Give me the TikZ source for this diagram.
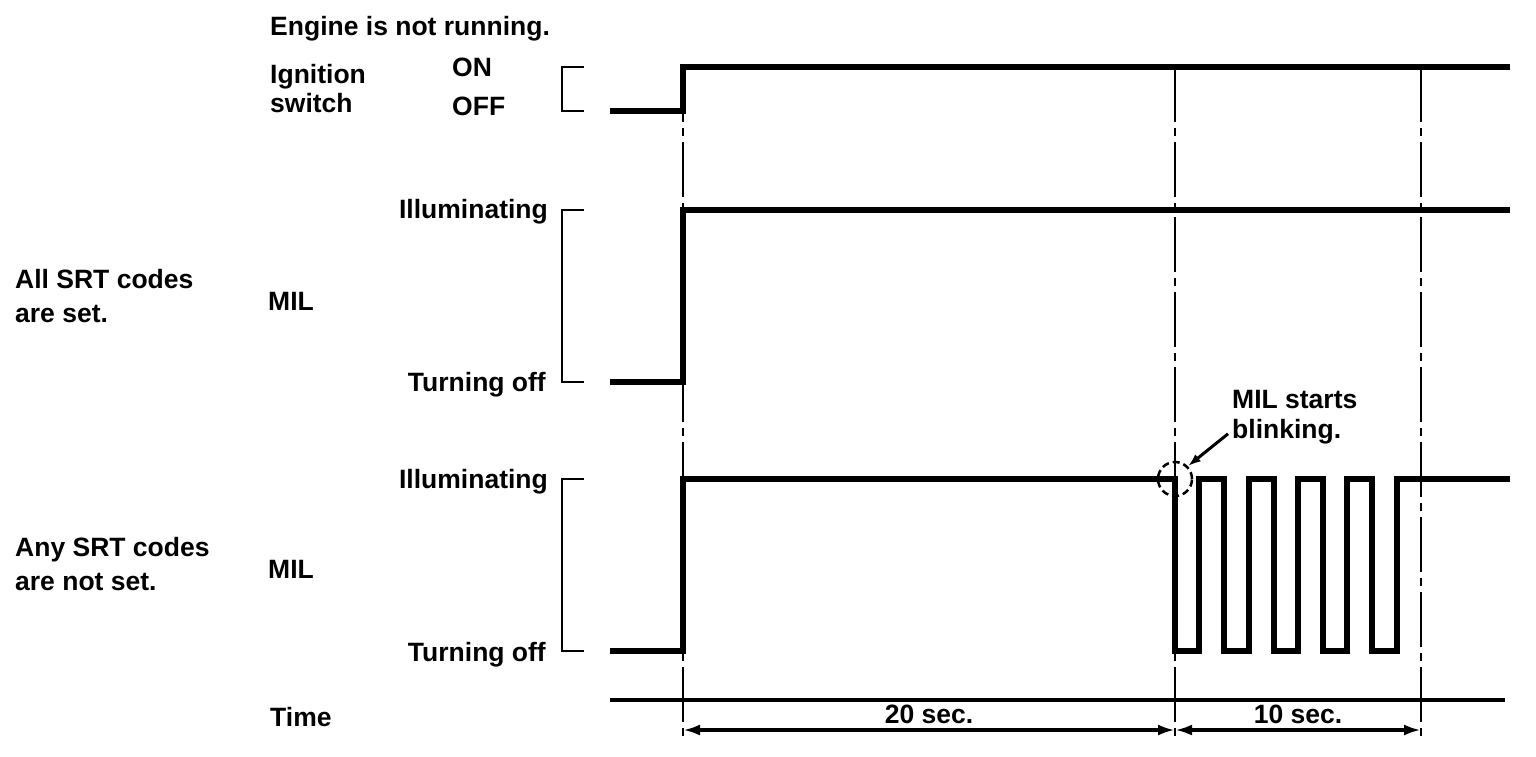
\documentclass[tikz,border=0pt]{standalone}
\usepackage{fontspec}
\setmainfont{Liberation Sans}
\usetikzlibrary{arrows.meta, positioning, calc}

\begin{document}
\begin{tikzpicture}[
    x=1pt, y=-1pt,
    every node/.style={font=\fontsize{26.5}{34}\selectfont\bfseries, inner sep=0pt},
    rowtext/.style={
        anchor=base west,
        align=left
    },
    statetext/.style={
        anchor=base east
    },
    signal/.style={
        line width=6pt
    },
    bracket/.style={
        line width=2.3pt
    },
    marker/.style={
        line width=2.3pt,
        dash pattern=on 55pt off 6pt on 8pt off 6pt
    },
    axis/.style={
        line width=4.5pt
    },
    span/.style={
        line width=3.5pt,
        {Latex[length=17pt, width=11pt]}-{Latex[length=17pt, width=11pt]}
    },
    callout/.style={
        line width=3pt,
        -{Latex[length=13pt, width=9pt]}
    }
]
\useasboundingbox (0,0) rectangle (1536,756);

% ==================== ROW LABELS ====================
% (base of a two-line node sits on its last line)
\node (engine) [rowtext] at (270,35) {Engine is not running.};
\node (ignition) [rowtext] at (270,112) {Ignition\\[-5pt]switch};
\node (on) [rowtext] at (452,76) {ON};
\node (off) [rowtext] at (452,115) {OFF};

\node (allset) [rowtext] at (15,322) {All SRT codes\\are set.};
\node (milA) [rowtext] at (268,310) {MIL};
\node (illumA) [statetext] at (548,218) {Illuminating};
\node (offA) [statetext] at (546,391) {Turning off};

\node (anyset) [rowtext] at (15,590) {Any SRT codes\\are not set.};
\node (milB) [rowtext] at (268,578) {MIL};
\node (illumB) [statetext] at (548,488) {Illuminating};
\node (offB) [statetext] at (546,661) {Turning off};

\node (time) [rowtext] at (270,726) {Time};

% ==================== LEVEL BRACKETS ====================
\draw [bracket] (584,67) -- (562,67) -- (562,111) -- (584,111);
\draw [bracket] (584,210) -- (562,210) -- (562,382) -- (584,382);
\draw [bracket] (584,479) -- (562,479) -- (562,651) -- (584,651);

% ==================== TIME MARKERS ====================
\foreach \t in {683,1175,1421}
    \draw [marker] (\t,67) -- (\t,740);

% ==================== SIGNALS ====================
% Ignition switch
\draw [signal] (610,111) -- (683,111) -- (683,67) -- (1510,67);

% MIL, all SRT codes set
\draw [signal] (610,382) -- (683,382) -- (683,210) -- (1510,210);

% MIL, any SRT codes not set
\draw [signal] (610,651) -- (683,651) -- (683,479) -- (1175,479)
    \foreach \k in {0,...,4} { -- ++(0,172) -- ++(24.3,0) -- ++(0,-172) -- ++(25,0) }
    -- (1510,479);

% ==================== BLINKING NOTE ====================
\node (blinkmark) [circle, draw, line width=2.5pt, dash pattern=on 7pt off 4pt, minimum size=34pt] at (1175,479) {};
\node (blinknote) [rowtext] at (1232,438) {MIL starts\\[-4pt]blinking.};
\draw [callout] ($(blinknote.south west)+(-4,-10)$) -- (blinkmark.45);

% ==================== TIME AXIS ====================
\draw [axis] (610,700) -- (1505,700);

\coordinate (mark1) at (683,730);
\coordinate (mark2) at (1175,730);
\coordinate (mark3) at (1421,730);

\draw [span] (mark1) -- node[above=5pt] (span20) {20 sec.} (mark2);
\draw [span] (mark2) -- node[above=5pt] (span10) {10 sec.} (mark3);

\end{tikzpicture}
\end{document}
